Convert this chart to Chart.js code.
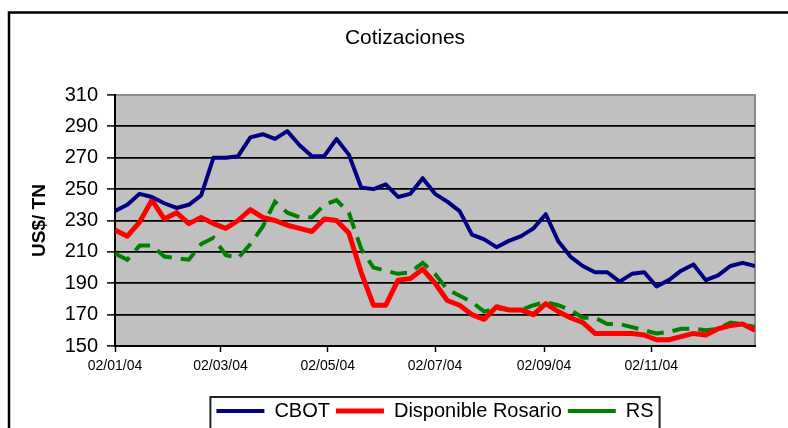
<!DOCTYPE html>
<html><head><meta charset="utf-8">
<script src="https://cdn.jsdelivr.net/npm/chart.js@4.4.1/dist/chart.umd.min.js"></script>
<style>html,body{margin:0;padding:0;background:#fff;}#wrap{position:relative;width:788px;height:428px;overflow:hidden}</style>
</head><body><div id="wrap"><canvas id="c" width="788" height="428"></canvas></div>
<script>
const weekDates = ['02/01/04','09/01/04','16/01/04','23/01/04','30/01/04','06/02/04','13/02/04','20/02/04','27/02/04',
'05/03/04','12/03/04','19/03/04','26/03/04','02/04/04','09/04/04','16/04/04','23/04/04','30/04/04',
'07/05/04','14/05/04','21/05/04','28/05/04','04/06/04','11/06/04','18/06/04','25/06/04',
'02/07/04','09/07/04','16/07/04','23/07/04','30/07/04','06/08/04','13/08/04','20/08/04','27/08/04',
'03/09/04','10/09/04','17/09/04','24/09/04','01/10/04','08/10/04','15/10/04','22/10/04','29/10/04',
'05/11/04','12/11/04','19/11/04','26/11/04','03/12/04','10/12/04','17/12/04','24/12/04','31/12/04'];
const cbot = [236,240,247,245,241,238,240,246,270,270,271,283,285,282,287,278,271,271,282,272,251,250,253,245,247,257,247,242,236,221,218,213,217,220,225,234,217,207,201,197,197,191,196,197,188,192,198,202,192,195,201,203,201];
const rosario = [224,220,229,243,231,235,228,232,228,225,230,237,232,230,227,225,223,231,230,222,197,176,176,192,193,199,190,179,176,170,167,175,173,173,170,177,172,168,165,158,158,158,158,157,154,154,156,158,157,161,163,164,160];
const rs = [209,205,214,214,207,206,205,215,219,208,206,215,226,242,235,232,232,240,243,235,212,200,198,196,197,203,196,186,182,178,172,174,173,173,176,178,176,173,168,168,164,164,162,160,158,159,161,161,160,161,165,164,162];
const seriesNames = ['CBOT','Disponible Rosario','RS'];
const tickLabels = ['02/01/04','02/03/04','02/05/04','02/07/04','02/09/04','02/11/04'];
const yMin = 150, yMax = 310, yStep = 20;

function parseDate(s){const p=s.split('/').map(Number);return Date.UTC(2000+p[2],p[1]-1,p[0]);}
const t0 = parseDate(weekDates[0]);
const dayOf = s => Math.round((parseDate(s)-t0)/86400000);
const xs = weekDates.map(dayOf);
const tickDays = tickLabels.map(dayOf);
const toPts = arr => arr.map((v,i)=>({x:xs[i],y:v}));

const FONT = "'Liberation Sans', Arial, sans-serif";

const framePlugin = {
  id:'frame',
  beforeDraw(chart){
    const {ctx, chartArea:a} = chart;
    ctx.save();
    ctx.fillStyle='#fff'; ctx.fillRect(0,0,chart.width,chart.height);
    ctx.strokeStyle='#000'; ctx.lineWidth=2.5;
    ctx.beginPath(); ctx.moveTo(9,440); ctx.lineTo(9,12.5); ctx.lineTo(800,12.5); ctx.stroke();
    ctx.fillStyle='#C0C0C0'; ctx.fillRect(a.left,a.top,a.right-a.left,a.bottom-a.top);
    ctx.strokeStyle='#8c8c8c'; ctx.lineWidth=2;
    ctx.beginPath(); ctx.moveTo(a.left,a.top); ctx.lineTo(a.right,a.top); ctx.lineTo(a.right,a.bottom); ctx.stroke();
    ctx.restore();
  },
  afterDraw(chart){
    const lg = chart.legend; if(!lg || !lg.legendHitBoxes) return;
    const hb = lg.legendHitBoxes; const ctx = chart.ctx;
    const l = hb[0].left - 6, last = hb[hb.length-1];
    const r = last.left + last.width + 6;
    const t = lg.top + 2;
    ctx.save(); ctx.strokeStyle='#222'; ctx.lineWidth=2;
    ctx.strokeRect(l, t, r-l, 60);
    ctx.restore();
  }
};

new Chart(document.getElementById('c'), {
  type:'line',
  data:{datasets:[
    {label:seriesNames[0], data:toPts(cbot), borderColor:'#000080', backgroundColor:'#000080', borderWidth:4, pointRadius:0, tension:0, borderJoinStyle:'round'},
    {label:seriesNames[1], data:toPts(rosario), borderColor:'#FF0000', backgroundColor:'#FF0000', borderWidth:5, pointRadius:0, tension:0, borderJoinStyle:'round'},
    {label:seriesNames[2], data:toPts(rs), borderColor:'#008000', backgroundColor:'#008000', borderWidth:4, borderDash:[17,9], pointRadius:0, tension:0}
  ]},
  options:{
    responsive:false, animation:false, devicePixelRatio:1,
    layout:{padding:{left:22,right:0,top:0,bottom:-3}},
    plugins:{
      title:{display:true, text:'Cotizaciones', color:'#000', font:{family:FONT,size:21,weight:'normal'}, padding:{top:25.4,bottom:44.4}},
      legend:{position:'bottom', fullSize:false, labels:{color:'#000', font:{family:FONT,size:20}, usePointStyle:true, pointStyle:'line', pointStyleWidth:48, padding:6}},
      tooltip:{enabled:false}
    },
    scales:{
      x:{type:'linear', min:0, max:xs[xs.length-1], position:'bottom',
        afterBuildTicks:s=>{s.ticks = tickDays.map(v=>({value:v}));},
        afterFit:s=>{s.height=49;},
        ticks:{callback:(v,i)=>tickLabels[i], color:'#000', font:{family:FONT,size:14}, padding:6, maxRotation:0, autoSkip:false},
        grid:{drawOnChartArea:false, drawTicks:true, tickLength:6, tickColor:'#000', tickWidth:1.5},
        border:{color:'#000', width:2}
      },
      y:{min:yMin, max:yMax, position:'left',
        afterFit:s=>{s.width=93;},
        ticks:{stepSize:yStep, color:'#000', font:{family:FONT,size:20}, padding:9},
        grid:{color:c=>c.tick && c.tick.value===yMax ? '#8c8c8c' : '#000', lineWidth:1.8, tickLength:8, tickColor:'#000', tickWidth:1.5},
        border:{color:'#000', width:2},
        title:{display:true, text:'US$/ TN', color:'#000', font:{family:FONT,size:19,weight:'bold'}, padding:{top:6.6,bottom:0}}
      },
      yRight:{position:'right', min:0, max:1, display:true,
        afterFit:s=>{s.width=33;},
        ticks:{display:false}, grid:{display:false, drawTicks:false}, border:{display:false}
      }
    }
  },
  plugins:[framePlugin]
});
</script></body></html>
